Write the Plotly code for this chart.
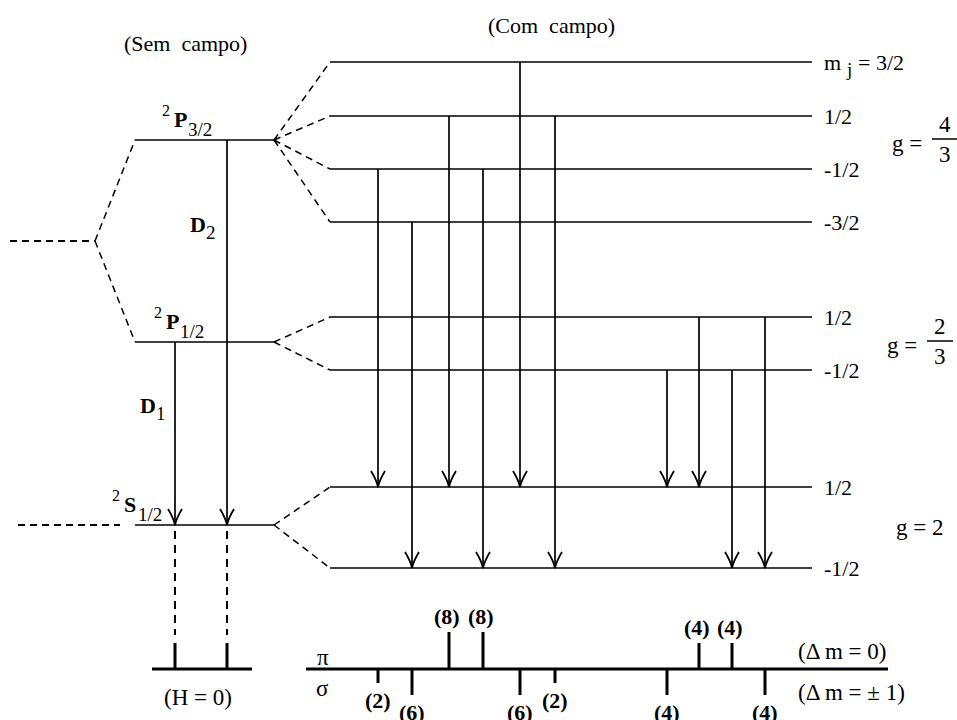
import plotly.graph_objects as go

# ------------------------------------------------------------------ data
TITLE_LEFT = "(Sem\u00a0\u00a0campo)"
TITLE_RIGHT = "(Com\u00a0\u00a0campo)"

# zero-field terms (diagram energy axis, drawn downward)
TERM_KEYS = ["P32", "P12", "S12"]
TERM_MULT = ["2", "2", "2"]
TERM_LETTERS = ["P", "P", "S"]
TERM_J = ["3/2", "1/2", "1/2"]
TERM_Y = [140, 342, 525]
P_CENTROID_Y = 241          # unsplit P term (no fine structure)

# Zeeman sub-levels (with field)
P32_MJ = [1.5, 0.5, -0.5, -1.5]
P32_Y = [62, 116, 169, 222]
P12_MJ = [0.5, -0.5]
P12_Y = [317, 370]
S12_MJ = [0.5, -0.5]
S12_Y = [487, 568]
MJ_TEXT = {1.5: "3/2", 0.5: "1/2", -0.5: "-1/2", -1.5: "-3/2"}

G_NUM = ["4", "2", "2"]
G_DEN = ["3", "3", None]

# zero-field lines D1, D2
D_SUB = ["1", "2"]
D_UPPER = ["P12", "P32"]
D_X = [175, 227]

# Zeeman transitions
TR_X = [378, 412, 449, 483, 520, 555, 667, 699, 732, 765]
TR_TERM = ["P32"] * 6 + ["P12"] * 4
TR_MJ_UP = [-0.5, -1.5, 0.5, -0.5, 1.5, 0.5, -0.5, 0.5, -0.5, 0.5]
TR_MJ_LOW = [0.5, -0.5, 0.5, -0.5, 0.5, -0.5, 0.5, 0.5, -0.5, -0.5]
TR_INT = [2, 6, 8, 8, 6, 2, 4, 4, 4, 4]

# ------------------------------------------------------------------ style
FONT = "Liberation Serif"
BLACK = "black"
LEVEL_W = 1.7
TICK_LEN = {2: 14, 4: 26, 6: 26, 8: 37}
H0_TICK_LEN = 26
SPEC_Y = 669
LEFT_X0, LEFT_X1 = 135, 274
RIGHT_X0, RIGHT_X1 = 330, 812
DASH = "7px,5px"

sub = {"P32": dict(zip(P32_MJ, P32_Y)),
       "P12": dict(zip(P12_MJ, P12_Y)),
       "S12": dict(zip(S12_MJ, S12_Y))}
term_y = dict(zip(TERM_KEYS, TERM_Y))

shapes = []
ann = []


def line(x0, y0, x1, y1, w=LEVEL_W, dash=None):
    d = dict(type="line", xref="x", yref="y", x0=x0, y0=y0, x1=x1, y1=y1,
             line=dict(color=BLACK, width=w))
    if dash:
        d["line"]["dash"] = dash
    shapes.append(d)


def arrowhead(x, y):
    p = (f"M {x-7},{y-16} Q {x-1.5},{y-7} {x},{y} "
         f"Q {x+1.5},{y-7} {x+7},{y-16}")
    shapes.append(dict(type="path", xref="x", yref="y", path=p,
                       line=dict(color=BLACK, width=1.8)))


def text(x, y, s, size=21, xa="left", ya="middle"):
    ann.append(dict(x=x, y=y, xref="x", yref="y", text=s, showarrow=False,
                    xanchor=xa, yanchor=ya, borderpad=0,
                    font=dict(family=FONT, size=size, color=BLACK)))


# titles
text(185, 43, TITLE_LEFT, 22, "center")
text(551, 25, TITLE_RIGHT, 22, "center")

# zero-field scheme
line(10, P_CENTROID_Y, 95, P_CENTROID_Y, 2, DASH)
line(95, P_CENTROID_Y, LEFT_X0, term_y["P32"], 1.5, DASH)
line(95, P_CENTROID_Y, LEFT_X0, term_y["P12"], 1.5, DASH)
line(18, term_y["S12"], 120, term_y["S12"], 2, DASH)
for k in TERM_KEYS:
    line(LEFT_X0, term_y[k], LEFT_X1, term_y[k])

# term symbols: superscript multiplicity, bold letter, subscript J
label_x = {"P32": 161, "P12": 153, "S12": 111}
for k, m, L, j in zip(TERM_KEYS, TERM_MULT, TERM_LETTERS, TERM_J):
    x0 = label_x[k]
    yb = term_y[k]
    text(x0, yb - 30, m, 16)
    text(x0 + 12, yb - 21, f"<b>{L}</b>", 22)
    text(x0 + 26, yb - 11, j, 19)

for s, up, x in zip(D_SUB, D_UPPER, D_X):
    line(x, term_y[up], x, term_y["S12"])
    arrowhead(x, term_y["S12"])
d_pos = {"2": (189, 224), "1": (139, 405)}
for s in D_SUB:
    x, y = d_pos[s]
    text(x, y, "<b>D</b>", 22)
    text(x + 16, y + 8, s, 19)

# fans to Zeeman sub-levels and m_j labels
for k in TERM_KEYS:
    for mj, y in sub[k].items():
        line(LEFT_X1, term_y[k], RIGHT_X0, y, 1.5, DASH)
        line(RIGHT_X0, y, RIGHT_X1, y)
        if k == "P32" and mj == 1.5:
            text(RIGHT_X1 + 11, y, "m", 22)
            text(RIGHT_X1 + 33, y + 7, "j", 19)
            text(RIGHT_X1 + 45, y, "= " + MJ_TEXT[mj], 22)
        else:
            text(RIGHT_X1 + 11, y, MJ_TEXT[mj], 22)

# g factors
g_y = [term_y["P32"], term_y["P12"], term_y["S12"]]
g_x = [891, 886, 895]
for num, den, y, gx in zip(G_NUM, G_DEN, g_y, g_x):
    if den is None:
        text(gx, y + 2, "g = " + num, 23)
    else:
        text(gx, y + 3, "g =", 23)
        line(gx + 41, y - 1, gx + 67, y - 1, 1.5)
        text(gx + 54, y - 16, num, 23, "center")
        text(gx + 54, y + 14, den, 23, "center")

# Zeeman transitions
for x, t, mu, ml in zip(TR_X, TR_TERM, TR_MJ_UP, TR_MJ_LOW):
    y0 = sub[t][mu]
    y1 = sub["S12"][ml]
    line(x, y0, x, y1)
    arrowhead(x, y1)

# spectrum without field
line(152, SPEC_Y, 252, SPEC_Y, 3)
for x in D_X:
    line(x, term_y["S12"] + 6, x, SPEC_Y - H0_TICK_LEN - 8, 2, "8px,6px")
    line(x, SPEC_Y, x, SPEC_Y - H0_TICK_LEN, 3)
text(198, 697, "(H = 0)", 23, "center")

# spectrum with field
line(306, SPEC_Y, 888, SPEC_Y, 3)
for x, mu, ml, inten in zip(TR_X, TR_MJ_UP, TR_MJ_LOW, TR_INT):
    L = TICK_LEN[inten]
    if mu - ml == 0:      # pi component, drawn upward
        line(x, SPEC_Y, x, SPEC_Y - L, 3)
        text(x - 2, SPEC_Y - L - 16, f"<b>({inten})</b>", 22, "center")
    else:                 # sigma component, drawn downward
        line(x, SPEC_Y, x, SPEC_Y + L, 3)
        text(x, SPEC_Y + L + 17, f"<b>({inten})</b>", 22, "center")

text(323, 657, "\u03c0", 23, "center")
text(322, 688, "\u03c3", 23, "center")
text(797, 651, "(\u0394 m = 0)", 23)
text(797, 692, "(\u0394 m = \u00b1 1)", 23)

fig = go.Figure()
fig.update_layout(
    width=957, height=720,
    margin=dict(l=0, r=0, t=0, b=0),
    paper_bgcolor="white", plot_bgcolor="white",
    xaxis=dict(range=[0, 957], visible=False, fixedrange=True),
    yaxis=dict(range=[720, 0], visible=False, fixedrange=True),
    shapes=shapes, annotations=ann, showlegend=False,
)
fig.write_html("out.html", config={"displayModeBar": False})

# remove the browser's default page margin so the figure sits at (0, 0)
with open("out.html", encoding="utf-8") as f:
    html = f.read()
html = html.replace("<body>", '<body style="margin:0;padding:0;overflow:hidden">', 1)
with open("out.html", "w", encoding="utf-8") as f:
    f.write(html)
